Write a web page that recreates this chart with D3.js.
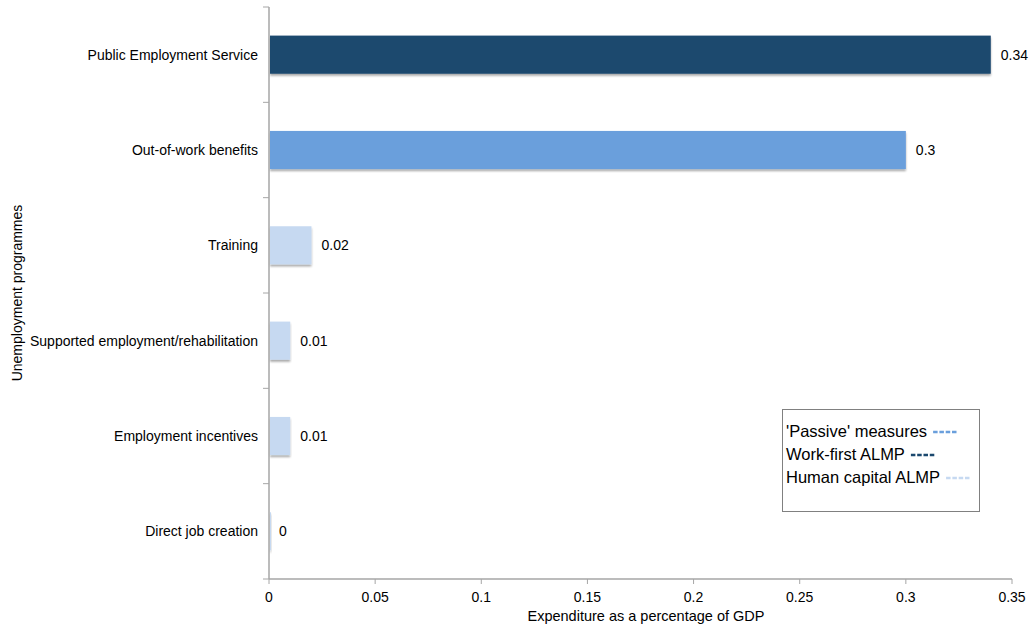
<!DOCTYPE html>
<html><head><meta charset="utf-8">
<script src="https://cdn.jsdelivr.net/npm/d3@7"></script>
<style>body{margin:0;background:#fff;font-family:"Liberation Sans",Arial,sans-serif;}</style>
</head><body><svg id="c" width="1031" height="628"></svg>
<script>
const categories = ["Public Employment Service","Out-of-work benefits","Training","Supported employment/rehabilitation","Employment incentives","Direct job creation"];
const values = [0.34, 0.3, 0.02, 0.01, 0.01, 0];
const valueLabels = ["0.34","0.3","0.02","0.01","0.01","0"];
const groups = ["work","passive","human","human","human","human"];
const xTicks = [0,0.05,0.1,0.15,0.2,0.25,0.3,0.35];
const xTickLabels = ["0","0.05","0.1","0.15","0.2","0.25","0.3","0.35"];
const legendNames = ["'Passive' measures","Work-first ALMP","Human capital ALMP"];
const legendKeys = ["passive","work","human"];
const colors = {passive:"#6a9fdc", work:"#1b486e", human:"#c6d9f1"};

const svg = d3.select("#c");
const L=269, R=1012, T=7, B=579;
const x = d3.scaleLinear().domain([0,0.35]).range([L,R]);
const y = d3.scaleBand().domain(categories).range([T,B]).paddingInner(0.6).paddingOuter(0.3);
const yb = d3.scaleBand().domain(categories).range([T,B]);

const defs = svg.append("defs");
const f = defs.append("filter").attr("id","sh").attr("x","-5%").attr("y","-20%").attr("width","110%").attr("height","160%");
f.append("feGaussianBlur").attr("in","SourceAlpha").attr("stdDeviation",1.2);
f.append("feOffset").attr("dx",0).attr("dy",2).attr("result","o");
f.append("feComponentTransfer").append("feFuncA").attr("type","linear").attr("slope",0.35);
const m = f.append("feMerge"); m.append("feMergeNode"); m.append("feMergeNode").attr("in","SourceGraphic");

// bars
svg.append("g").selectAll("rect").data(categories).join("rect")
  .attr("x", x(0)+1).attr("y", d=>y(d))
  .attr("width",(d,i)=>Math.max(1,x(values[i])-x(0)-1)).attr("height",y.bandwidth())
  .attr("fill",(d,i)=>colors[groups[i]]).attr("filter","url(#sh)");

// value labels
svg.append("g").selectAll("text").data(categories).join("text")
  .attr("x",(d,i)=>x(values[i])+10).attr("y",d=>y(d)+y.bandwidth()/2).attr("dy","0.35em")
  .attr("font-size",14).attr("fill","#000").text((d,i)=>valueLabels[i]);

// y axis
const ya = svg.append("g");
ya.append("line").attr("x1",L).attr("x2",L).attr("y1",T).attr("y2",B).attr("stroke","#a6a6a6").attr("stroke-width",1.5);
const bounds = categories.map(d=>yb(d)).concat([B]);
ya.selectAll("line.t").data(bounds).join("line").attr("class","t")
  .attr("x1",L-6).attr("x2",L).attr("y1",d=>d).attr("y2",d=>d).attr("stroke","#a6a6a6");
ya.selectAll("text").data(categories).join("text")
  .attr("x",258).attr("y",d=>y(d)+y.bandwidth()/2).attr("dy","0.35em")
  .attr("text-anchor","end").attr("font-size",14).text(d=>d);

// x axis
const xa = svg.append("g");
xa.append("line").attr("x1",L).attr("x2",R).attr("y1",B).attr("y2",B).attr("stroke","#a6a6a6").attr("stroke-width",1.5);
xa.selectAll("line.t").data(xTicks).join("line").attr("class","t")
  .attr("x1",d=>x(d)).attr("x2",d=>x(d)).attr("y1",B).attr("y2",B+5).attr("stroke","#a6a6a6");
xa.selectAll("text").data(xTicks).join("text")
  .attr("x",d=>x(d)).attr("y",B+23).attr("text-anchor","middle").attr("font-size",14)
  .text((d,i)=>xTickLabels[i]);

svg.append("text").attr("x",646).attr("y",621).attr("text-anchor","middle").attr("font-size",14.5)
  .text("Expenditure as a percentage of GDP");
svg.append("text").attr("transform","translate(22,293) rotate(-90)").attr("text-anchor","middle").attr("font-size",14)
  .text("Unemployment programmes");

// legend
const lg = svg.append("g");
lg.append("rect").attr("x",782.5).attr("y",409.5).attr("width",197).attr("height",102).attr("fill","#fff").attr("stroke","#808080");
legendNames.forEach((n,i)=>{
  const ty = 437 + i*23;
  const t = lg.append("text").attr("x",786).attr("y",ty).attr("font-size",16.5).text(n);
  const w = t.node().getComputedTextLength();
  lg.append("line").attr("x1",786+w+6).attr("x2",786+w+31).attr("y1",ty-5).attr("y2",ty-5)
    .attr("stroke",colors[legendKeys[i]]).attr("stroke-width",2.5).attr("stroke-dasharray","4.5,1.8");
});
</script></body></html>
